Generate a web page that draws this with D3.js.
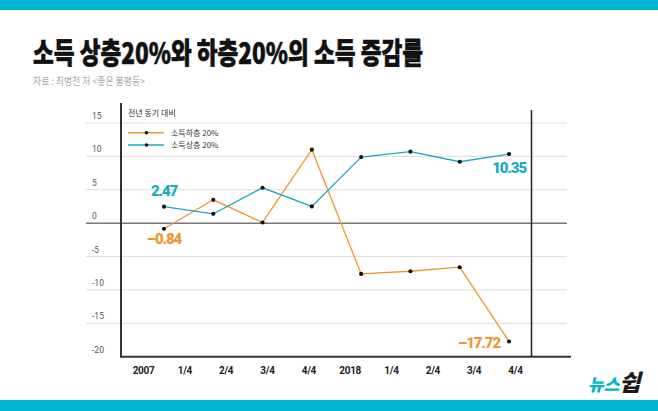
<!DOCTYPE html>
<html><head><meta charset="utf-8">
<script src="https://cdn.jsdelivr.net/npm/d3@7"></script>
<style>html,body{margin:0;padding:0;background:#fff;}svg{display:block;}</style>
</head><body>
<script>
// ---- data ----
const quarters = ["2007Q1","2007Q2","2007Q3","2007Q4","2018Q1","2018Q2","2018Q3","2018Q4"];
const lowIncome  = [-0.84, 3.5, 0.1, 11.0, -7.6, -7.2, -6.6, -17.72]; // 소득하층 20%
const highIncome = [2.47, 1.4, 5.3, 2.5, 9.9, 10.7, 9.2, 10.35];      // 소득상층 20%
const axisLabels = ["2007","1/4","2/4","3/4","4/4","2018","1/4","2/4","3/4","4/4"];
const yTicks = [15,10,5,0,-5,-10,-15,-20];
const seriesNames = ["소득하층 20%","소득상층 20%"];
const title = "소득 상층20%와 하층20%의 소득 증감률";
const source = "자료 : 최병천 저 <좋은 불평등>";
const unitLabel = "전년 동기 대비";

const W = 658, H = 411;
const teal = "#00b5d1", orange = "#f0962e", blue = "#1aabc2";
const svg = d3.select("body").append("svg").attr("width", W).attr("height", H);

svg.append("rect").attr("x",0).attr("y",0).attr("width",W).attr("height",10).attr("fill",teal);
svg.append("rect").attr("x",0).attr("y",400).attr("width",W).attr("height",11).attr("fill",teal);

svg.append("text").attr("x",33).attr("y",64).text(title)
  .attr("font-family","'Noto Sans CJK KR'").attr("font-weight",900).attr("font-size",29)
  .attr("fill","#111").attr("stroke","#111").attr("stroke-width",0.6)
  .attr("textLength",390).attr("lengthAdjust","spacingAndGlyphs");
svg.append("text").attr("x",33).attr("y",85).text(source)
  .attr("font-family","'Noto Sans CJK KR'").attr("font-size",10.5)
  .attr("fill","#aaa").attr("textLength",112).attr("lengthAdjust","spacingAndGlyphs");

const y = d3.scaleLinear().domain([-20,15]).range([356.7,123]);
const x = d3.scalePoint().domain(quarters).range([164,509]);
const xl = d3.scalePoint().domain(d3.range(axisLabels.length)).range([143,515]);

// gridlines
svg.append("g").selectAll("line").data(yTicks.filter(v=>v!==0 && v!==-20)).join("line")
  .attr("x1",86).attr("x2",567).attr("y1",d=>y(d)).attr("y2",d=>y(d))
  .attr("stroke","#dcdcdc").attr("stroke-width",1);
svg.append("line").attr("x1",86).attr("x2",567).attr("y1",y(0)).attr("y2",y(0))
  .attr("stroke","#777").attr("stroke-width",1.5);

// y tick labels
svg.append("g").selectAll("text").data(yTicks).join("text")
  .attr("x",92).attr("y",d=>y(d)-4).text(d=>d)
  .attr("font-family","'Liberation Sans Narrow','Roboto',sans-serif").attr("font-size",8.5)
  .attr("fill","#555");

// axes frame
svg.append("line").attr("x1",121).attr("x2",121).attr("y1",103).attr("y2",y(-20)+0.5)
  .attr("stroke","#333").attr("stroke-width",2);
svg.append("line").attr("x1",120).attr("x2",571).attr("y1",y(-20)).attr("y2",y(-20))
  .attr("stroke","#333").attr("stroke-width",2);
svg.append("line").attr("x1",531.5).attr("x2",531.5).attr("y1",110).attr("y2",y(-20))
  .attr("stroke","#222").attr("stroke-width",1.5);

// x axis labels
const xa = svg.append("g").attr("transform",`translate(0,${y(-20)})`)
  .call(d3.axisBottom(xl).tickSize(0).tickPadding(10).tickFormat(i=>axisLabels[i]));
xa.select(".domain").remove();
xa.selectAll("text").attr("font-family","'Roboto',sans-serif").attr("font-weight",700)
  .attr("font-size",10).attr("fill","#222").attr("letter-spacing",-0.3);

// legend
svg.append("text").attr("x",128).attr("y",116).text(unitLabel)
  .attr("font-family","'Noto Sans CJK KR'").attr("font-size",8).attr("fill","#333");
[[orange,seriesNames[0],132.7],[blue,seriesNames[1],145]].forEach(([c,n,ly])=>{
  svg.append("line").attr("x1",128).attr("x2",164).attr("y1",ly).attr("y2",ly)
    .attr("stroke",c).attr("stroke-width",1.5);
  svg.append("circle").attr("cx",146.5).attr("cy",ly).attr("r",1.8).attr("fill","#111");
  svg.append("text").attr("x",171).attr("y",ly+3).text(n)
    .attr("font-family","'Noto Sans CJK KR'").attr("font-size",8).attr("fill","#333");
});

// lines
const line = d3.line().x((d,i)=>x(quarters[i])).y(d=>y(d));
[[lowIncome,orange],[highIncome,blue]].forEach(([s,c])=>{
  svg.append("path").datum(s).attr("d",line).attr("fill","none")
    .attr("stroke",c).attr("stroke-width",1.3);
});
[lowIncome,highIncome].forEach(s=>{
  svg.append("g").selectAll("circle").data(s).join("circle")
    .attr("cx",(d,i)=>x(quarters[i])).attr("cy",d=>y(d)).attr("r",2.1).attr("fill","#111");
});

// value annotations
const fmt = v => (v<0 ? "–" + Math.abs(v).toFixed(2) : v.toFixed(2));
const ann = [
  {s:highIncome,i:0,c:blue,dx:0,dy:-11,a:"middle"},
  {s:lowIncome,i:0,c:orange,dx:0,dy:15,a:"middle"},
  {s:highIncome,i:7,c:blue,dx:17,dy:19,a:"end"},
  {s:lowIncome,i:7,c:orange,dx:-9,dy:7,a:"end"}
];
svg.append("g").selectAll("text").data(ann).join("text")
  .attr("x",d=>x(quarters[d.i])+d.dx).attr("y",d=>y(d.s[d.i])+d.dy)
  .attr("text-anchor",d=>d.a).text(d=>fmt(d.s[d.i]))
  .attr("font-family","'Roboto',sans-serif").attr("font-weight",900).attr("font-size",15)
  .attr("letter-spacing",-1.1).attr("fill",d=>d.c);

// logo
const logo = svg.append("text").attr("x",588).attr("y",391)
  .attr("font-family","'Noto Sans CJK KR'").attr("font-weight",900).attr("font-style","italic");
logo.append("tspan").text("뉴스").attr("fill",teal).attr("font-size",17);
logo.append("tspan").text("쉽").attr("fill","#1a1a1a").attr("font-size",23);
</script>
</body></html>
